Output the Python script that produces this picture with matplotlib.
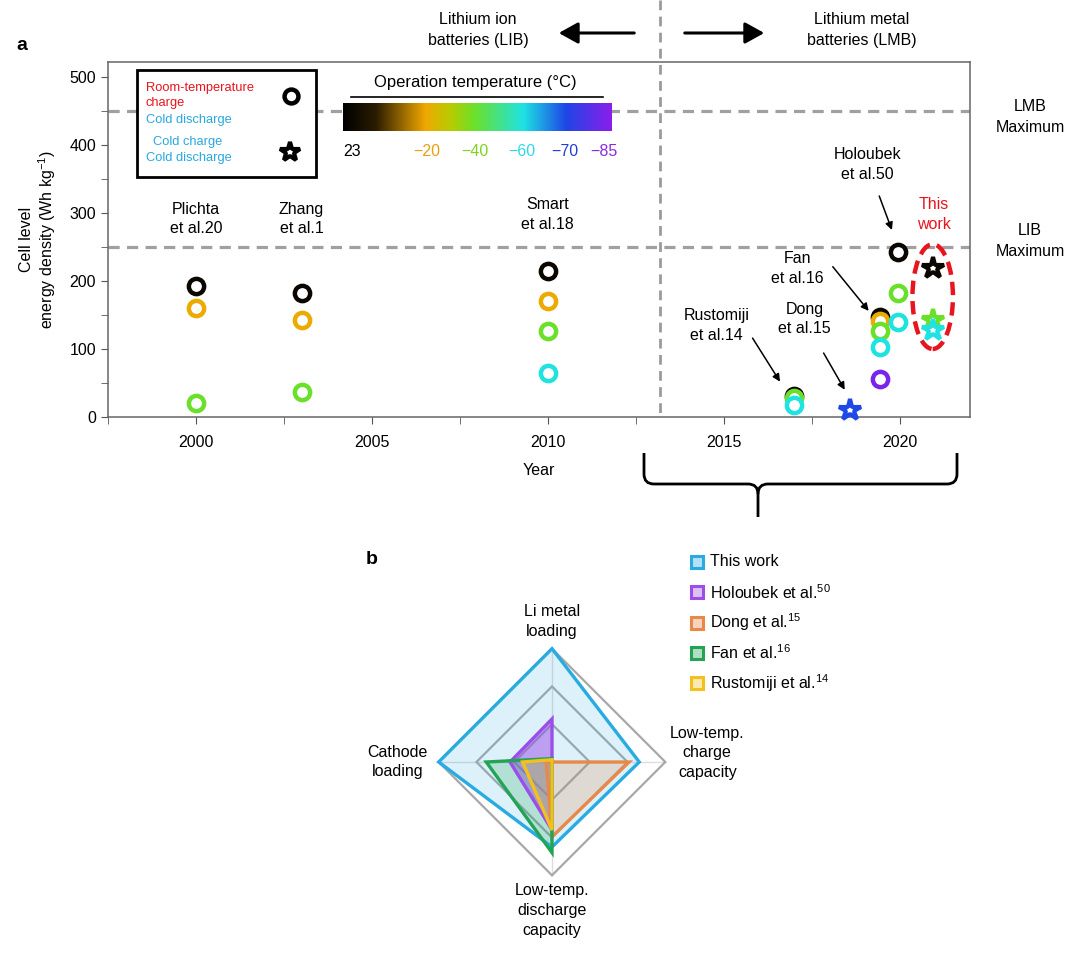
import numpy as np
import matplotlib
matplotlib.use('Agg')
import matplotlib.pyplot as plt
from matplotlib.colors import LinearSegmentedColormap
from matplotlib.markers import MarkerStyle
from matplotlib.patches import Ellipse, Rectangle, Polygon, FancyArrowPatch, PathPatch
from matplotlib.path import Path
from matplotlib.lines import Line2D

plt.rcParams['font.family'] = ['Liberation Sans', 'DejaVu Sans']

# ---------------- panel a data ----------------
temp_ticks = [23, -20, -40, -60, -70, -85]
temp_tick_colors = ['#000000', '#E8A010', '#7ED321', '#2FD8E6', '#2040D8', '#8A2BE2']

plichta_year, plichta_vals, plichta_temps = 2000, [193, 161, 20], [23, -20, -40]
zhang_year, zhang_vals, zhang_temps = 2003, [183, 142, 37], [23, -20, -40]
smart_year, smart_vals, smart_temps = 2010, [214, 170, 127, 64], [23, -20, -40, -60]
rust_year, rust_vals, rust_temps = 2017, [31, 28, 18], [23, -40, -60]
fan_year, fan_vals, fan_temps = 2019.45, [147, 141, 126, 103, 56], [23, -20, -40, -60, -85]
holo_year, holo_vals, holo_temps = 2019.95, [243, 182, 140], [23, -40, -60]
dong_year, dong_vals, dong_temps = 2018.6, [10], [-70]
work_year, work_vals, work_temps = 2020.95, [219, 143, 128], [23, -40, -60]

lib_max = 250
lmb_max = 450

# ---------------- panel b data ----------------
radar_labels = ['Li metal\nloading', 'Low-temp.\ncharge\ncapacity',
                'Low-temp.\ndischarge\ncapacity', 'Cathode\nloading']
radar_names = ['This work', 'Holoubek et al.$^{\\mathregular{50}}$', 'Dong et al.$^{\\mathregular{15}}$',
               'Fan et al.$^{\\mathregular{16}}$', 'Rustomiji et al.$^{\\mathregular{14}}$']
this_work = [1.0, 0.77, 0.75, 1.0]
holoubek = [0.38, 0.0, 0.60, 0.37]
dong = [0.0, 0.68, 0.66, 0.05]
fan = [0.03, 0.0, 0.80, 0.58]
rustomiji = [0.02, 0.0, 0.60, 0.26]
radar_colors = ['#29ABE2', '#9B4FE8', '#E8894A', '#23A455', '#F4C01E']

# colour map for temperature (position along bar)
bar_pos = [0.033, 0.31, 0.49, 0.665, 0.825, 0.97]
cmap = LinearSegmentedColormap.from_list('optemp', [
    (0.0, '#000000'), (0.12, '#2a1c00'), (0.305, '#F0A800'), (0.40, '#B8CC00'),
    (0.49, '#6BE02A'), (0.67, '#1EE3E3'), (0.83, '#1E46E6'), (1.0, '#8A1EEA')])


def tcolor(t):
    return cmap(np.interp(-t, [-x for x in temp_ticks], bar_pos))


star = MarkerStyle('*', joinstyle='bevel')

W, H = 1080, 955
fig = plt.figure(figsize=(W / 100, H / 100), dpi=100)


def fx(px):
    return px / W


def fy(py):
    return 1 - py / H


ax = fig.add_axes([fx(108), fy(417), (970 - 108) / W, (417 - 62) / H])
ax.set_xlim(1998, 2022)
ax.set_ylim(0, 522)
for s in ax.spines.values():
    s.set_color('#666666')
    s.set_linewidth(1.1)
ax.set_xticks([2000, 2005, 2010, 2015, 2020])
ax.set_xticks(np.arange(1997.5, 2022, 2.5), minor=True)
ax.set_yticks([0, 100, 200, 300, 400, 500])
ax.set_yticks(np.arange(50, 520, 100), minor=True)
ax.tick_params(which='both', direction='out', length=5, color='#555555', labelsize=11.5)
ax.tick_params(axis='x', pad=8)
ax.set_xlabel('Year', fontsize=11.5, labelpad=9)
ax.set_ylabel('Cell level\nenergy density (Wh kg$^{\\mathregular{-1}}$)', fontsize=11.5,
              labelpad=8, linespacing=1.15)

dash = (0, (3.5, 2.3))
ax.axhline(lmb_max, color='#A0A0A0', lw=2.3, ls=dash, zorder=1)
ax.axhline(lib_max, color='#A0A0A0', lw=2.3, ls=dash, zorder=1)

circles = [(plichta_year, plichta_vals, plichta_temps), (zhang_year, zhang_vals, zhang_temps),
           (smart_year, smart_vals, smart_temps), (rust_year, rust_vals, rust_temps),
           (fan_year, fan_vals, fan_temps), (holo_year, holo_vals, holo_temps)]
for yr, vals, temps in circles:
    for v, t in zip(vals, temps):
        ax.plot(yr, v, 'o', ms=11, mfc='white', mec=tcolor(t), mew=3.2, zorder=4, clip_on=False)

for yr, vals, temps in [(dong_year, dong_vals, dong_temps), (work_year, work_vals, work_temps)]:
    for v, t in zip(vals, temps):
        ax.plot(yr, v, marker=star, ls='', ms=16, mfc='white', mec=tcolor(t), mew=3.0, zorder=5, clip_on=False)

ax.add_patch(Ellipse((2020.94, 177), 1.15, 154, fill=False, ec='#E8141E', lw=3.2,
                     ls=(0, (3, 1.6)), zorder=6))

lab = dict(ha='center', va='center', fontsize=11.5, linespacing=1.4)
ax.text(2000, 291, 'Plichta\net al.20', **lab)
ax.text(2003, 291, 'Zhang\net al.1', **lab)
ax.text(2010, 298, 'Smart\net al.18', **lab)
ax.text(2019.08, 371, 'Holoubek\net al.50', **lab)
ax.text(2020.97, 298, 'This\nwork', color='#E8141E', **lab)
ax.text(2017.1, 218, 'Fan\net al.16', **lab)
ax.text(2017.3, 144, 'Dong\net al.15', **lab)
ax.text(2014.8, 135, 'Rustomiji\net al.14', **lab)

arr = dict(arrowstyle='-|>', color='k', lw=1.1, mutation_scale=11, shrinkA=0, shrinkB=0)
ax.annotate('', xy=(2019.78, 275), xytext=(2019.42, 325), arrowprops=arr)
ax.annotate('', xy=(2019.12, 156), xytext=(2018.1, 221), arrowprops=arr)
ax.annotate('', xy=(2018.44, 40), xytext=(2017.84, 94), arrowprops=arr)
ax.annotate('', xy=(2016.6, 52), xytext=(2015.82, 116), arrowprops=arr)

# symbol key box
fig.add_artist(Rectangle((fx(137), fy(177)), (316 - 137) / W, (177 - 70) / H,
                         transform=fig.transFigure, fc='white', ec='black', lw=2, zorder=5))
small = dict(fontsize=9.3, va='center', ha='left', zorder=6)
fig.text(fx(146), fy(88), 'Room-temperature', color='#E8141E', **small)
fig.text(fx(146), fy(103), 'charge', color='#E8141E', **small)
fig.text(fx(146), fy(120), 'Cold discharge', color='#29A8E0', **small)
fig.text(fx(153), fy(142), 'Cold charge', color='#29A8E0', **small)
fig.text(fx(146), fy(158), 'Cold discharge', color='#29A8E0', **small)
fig.add_artist(Line2D([fx(291)], [fy(96)], marker='o', ms=10, mfc='white', mec='k', mew=3.2,
                      transform=fig.transFigure, zorder=7))
fig.add_artist(Line2D([fx(290)], [fy(152)], marker=star, ms=15, mfc='white', mec='k', mew=3.0,
                      transform=fig.transFigure, zorder=7))

# colour bar
cax = fig.add_axes([fx(343), fy(131), (612 - 343) / W, (131 - 103) / H])
cax.imshow(np.linspace(0, 1, 256)[None, :], cmap=cmap, aspect='auto', extent=[0, 1, 0, 1])
cax.set_axis_off()
fig.text(fx(475), fy(82), 'Operation temperature (°C)', ha='center', va='center', fontsize=12)
fig.add_artist(Line2D([fx(351), fx(603)], [fy(97), fy(97)], color='k', lw=1.2, transform=fig.transFigure))
for t, p, c in zip(temp_ticks, bar_pos, temp_tick_colors):
    s = str(t).replace('-', '\u2212')
    fig.text(fx(343 + p * 269), fy(151), s, color=c, ha='center', va='center', fontsize=11.5)

# right side labels
fig.text(fx(1030), fy(117), 'LMB\nMaximum', ha='center', va='center', fontsize=11.5, linespacing=1.5)
fig.text(fx(1030), fy(241), 'LIB\nMaximum', ha='center', va='center', fontsize=11.5, linespacing=1.5)

# top header
fig.text(fx(478), fy(30), 'Lithium ion\nbatteries (LIB)', ha='center', va='center', fontsize=11.5, linespacing=1.5)
fig.text(fx(862), fy(30), 'Lithium metal\nbatteries (LMB)', ha='center', va='center', fontsize=11.5, linespacing=1.5)
head = '-|>,head_length=0.9,head_width=0.5'
fig.add_artist(FancyArrowPatch((fx(637), fy(33)), (fx(556), fy(33)), transform=fig.transFigure,
                               arrowstyle=head, mutation_scale=13, lw=2.2, color='k'))
fig.add_artist(FancyArrowPatch((fx(682), fy(33)), (fx(767), fy(33)), transform=fig.transFigure,
                               arrowstyle=head, mutation_scale=13, lw=2.2, color='k'))
fig.add_artist(Line2D([fx(660), fx(660)], [fy(0), fy(417)], color='#9A9A9A', lw=2,
                      ls=dash, transform=fig.transFigure, zorder=2))

fig.text(fx(22), fy(45), 'a', fontsize=14, fontweight='bold', ha='center', va='center')
fig.text(fx(372), fy(560), 'b', fontsize=14, fontweight='bold', ha='center', va='center')

# curly brace
bl, bm, br, yt, yh, yb = fx(644), fx(758), fx(957), fy(453), fy(484), fy(517)
dxp, dyp = 10 / W, 10 / H
verts = [(bl, yt), (bl, yh + dyp), (bl, yh), (bl + dxp, yh),
         (bm - dxp, yh), (bm, yh), (bm, yh - dyp), (bm, yb)]
codes = [Path.MOVETO, Path.LINETO, Path.CURVE3, Path.CURVE3, Path.LINETO, Path.CURVE3, Path.CURVE3, Path.LINETO]
verts2 = [(br, yt), (br, yh + dyp), (br, yh), (br - dxp, yh),
          (bm + dxp, yh), (bm, yh), (bm, yh - dyp)]
codes2 = [Path.MOVETO, Path.LINETO, Path.CURVE3, Path.CURVE3, Path.LINETO, Path.CURVE3, Path.CURVE3]
for v, c in [(verts, codes), (verts2, codes2)]:
    fig.add_artist(PathPatch(Path(v, c), transform=fig.transFigure, fill=False, ec='k', lw=2))

# ---------------- panel b: radar ----------------
rax = fig.add_axes([fx(552 - 170), fy(762 + 170), 340 / W, 340 / H])
rax.set_xlim(-1.5, 1.5)
rax.set_ylim(-1.5, 1.5)
rax.set_axis_off()
ang = np.deg2rad([90, 0, -90, 180])
ux, uy = np.cos(ang), np.sin(ang)
rax.plot([-1, 1], [0, 0], color='#DDDDDD', lw=1, zorder=1)
rax.plot([0, 0], [-1, 1], color='#DDDDDD', lw=1, zorder=1)
for r in [1 / 3, 2 / 3, 1.0]:
    rax.add_patch(Polygon(np.c_[ux * r, uy * r], closed=True, fill=False, ec='#A8A8A8', lw=1.6, zorder=1))
fill_alpha = [0.16, 0.5, 0.22, 0.22, 0.2]
for vals, col, fa in zip([this_work, holoubek, dong, fan, rustomiji], radar_colors, fill_alpha):
    v = np.array(vals)
    pts = np.c_[ux * v, uy * v]
    rax.add_patch(Polygon(pts, closed=True, fc=col, alpha=fa, ec='none', zorder=2))
    rax.add_patch(Polygon(pts, closed=True, fill=False, ec=col, lw=2.4, zorder=3, joinstyle='miter'))

rlab = dict(ha='center', va='center', fontsize=11.5, linespacing=1.4)
rax.text(0, 1.24, radar_labels[0], **rlab)
rax.text(1.37, 0.08, radar_labels[1], **rlab)
rax.text(0, -1.31, radar_labels[2], **rlab)
rax.text(-1.36, 0.0, radar_labels[3], **rlab)

for i, (name, col) in enumerate(zip(radar_names, radar_colors)):
    yy = 562 + i * 30.3
    fig.add_artist(Line2D([fx(697)], [fy(yy)], marker='s', ms=8, mfc=matplotlib.colors.to_rgba(col, 0.35),
                          mec=col, mew=2.2, transform=fig.transFigure))
    fig.text(fx(710), fy(yy), name, ha='left', va='center', fontsize=11.5)

fig.savefig('out.png', dpi=100)
